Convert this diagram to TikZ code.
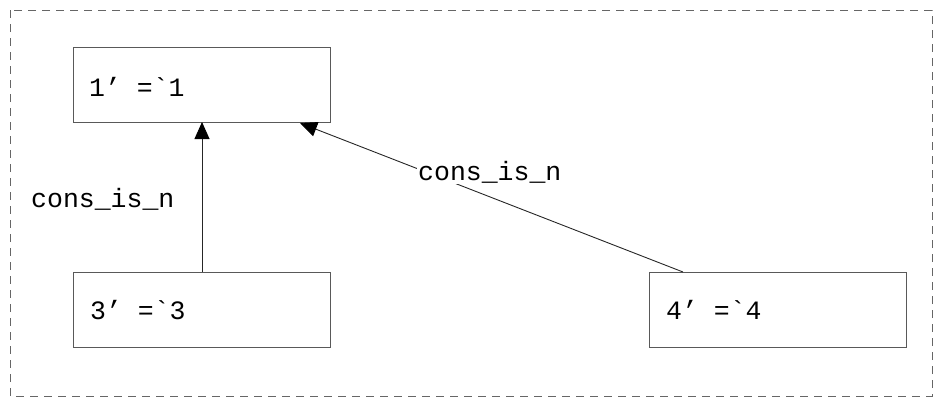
\documentclass[tikz,border=0pt]{standalone}
\usepackage{fontspec}
\setmonofont{Liberation Mono}
\usetikzlibrary{arrows.meta}
\definecolor{boxline}{gray}{0.35}
\tikzset{
  box/.style={draw=boxline, line width=1pt, fill=white},
  lbl/.style={font=\ttfamily\fontsize{26.5}{31}\selectfont, inner sep=0pt, anchor=base west},
  conn/.style={draw=black!85, line width=0.9pt, -{Triangle[length=17pt,width=15pt,color=black]}},
}
\begin{document}
\begin{tikzpicture}[x=1pt,y=-1pt]
\useasboundingbox (0,0) rectangle (933,397);
\draw[draw=black!60, line width=0.9pt, dash pattern=on 8pt off 6pt] (10,10) rectangle (932,396);
% boxes
\node[box, minimum width=257pt, minimum height=75pt, anchor=north west, inner sep=0pt] (n1) at (73,47) {};
\node[box, minimum width=257pt, minimum height=75pt, anchor=north west, inner sep=0pt] (n3) at (73,272) {};
\node[box, minimum width=257pt, minimum height=75pt, anchor=north west, inner sep=0pt] (n4) at (649,272) {};
\node[lbl] (t1) at (89,96) {1’ =`1};
\node[lbl] (t3) at (90,319) {3’ =`3};
\node[lbl] (t4) at (666,319) {4’ =`4};
% connectors
\coordinate (s3) at (202,272);
\coordinate (e1) at (202,122);
\coordinate (s4) at (683,272);
\coordinate (e2) at (300,123);
\draw[conn] (s3) -- (e1);
\draw[conn] (s4) -- (e2);
\node[lbl] (c1) at (31,207) {cons\_is\_n};
\node[lbl, fill=white, inner sep=1pt] (c2) at (417,180) {cons\_is\_n};
\end{tikzpicture}
\end{document}
